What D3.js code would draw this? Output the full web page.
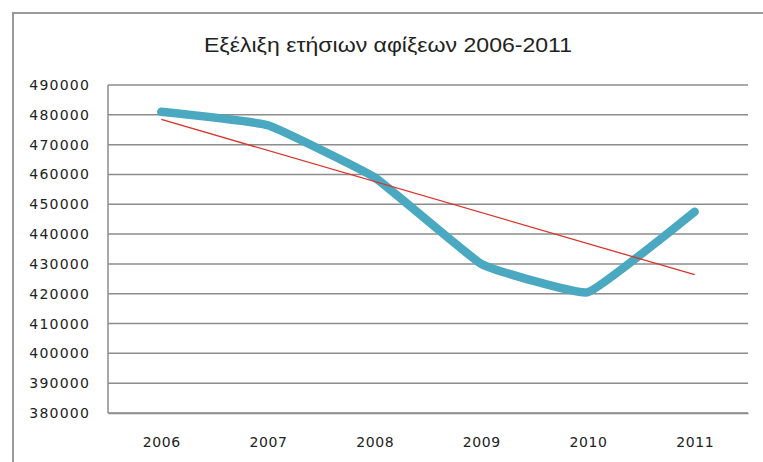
<!DOCTYPE html>
<html>
<head>
<meta charset="utf-8">
<script src="https://cdn.jsdelivr.net/npm/d3@7"></script>
<style>
  body { margin: 0; background: #fff; }
  text { font-family: "DejaVu Sans", sans-serif; fill: #222; }
</style>
</head>
<body>
<div id="chart"></div>
<script>
// Data
const years = ["2006", "2007", "2008", "2009", "2010", "2011"];
const arrivals = [481000, 476500, 459000, 430000, 420500, 447500];
const yTicks = [380000, 390000, 400000, 410000, 420000, 430000, 440000, 450000, 460000, 470000, 480000, 490000];
const title = "Εξέλιξη ετήσιων αφίξεων 2006-2011";

const width = 763;
const height = 462;
const margin = { top: 85, right: 15, bottom: 49, left: 108 };

const svg = d3.select("#chart")
    .append("svg")
    .attr("width", width)
    .attr("height", height);

// Outer frame (top and left edges)
svg.append("path")
    .attr("d", `M13,${height} L13,13 L${width},13`)
    .attr("fill", "none")
    .attr("stroke", "#9a9a9a")
    .attr("stroke-width", 2);

const x = d3.scalePoint()
    .domain(years)
    .range([margin.left, width - margin.right])
    .padding(0.5);

const y = d3.scaleLinear()
    .domain([380000, 490000])
    .range([height - margin.bottom, margin.top]);

// Gridlines
svg.append("g")
    .selectAll("line")
    .data(yTicks)
    .join("line")
    .attr("x1", margin.left)
    .attr("x2", width - margin.right)
    .attr("y1", d => y(d))
    .attr("y2", d => y(d))
    .attr("stroke", "#8c8c8c")
    .attr("stroke-width", 1.5);

// Left axis line
svg.append("line")
    .attr("x1", margin.left)
    .attr("x2", margin.left)
    .attr("y1", margin.top)
    .attr("y2", height - margin.bottom)
    .attr("stroke", "#8c8c8c")
    .attr("stroke-width", 1.5);

// Y labels
const yAxis = svg.append("g")
    .attr("transform", `translate(${margin.left},0)`)
    .call(d3.axisLeft(y).tickValues(yTicks).tickSize(0).tickPadding(18).tickFormat(d3.format("d")));
yAxis.select(".domain").remove();
yAxis.selectAll("text")
    .style("font-family", "DejaVu Sans, sans-serif")
    .style("font-size", "14px")
    .style("letter-spacing", "1.2px")
    .attr("fill", "#333");

// X labels
const xAxis = svg.append("g")
    .attr("transform", `translate(0,${height - margin.bottom})`)
    .call(d3.axisBottom(x).tickSize(0).tickPadding(24));
xAxis.select(".domain")
    .attr("stroke", "#8c8c8c")
    .attr("stroke-width", 1.5);
xAxis.selectAll("text")
    .style("font-family", "DejaVu Sans, sans-serif")
    .style("font-size", "14px")
    .style("letter-spacing", "0.6px")
    .attr("fill", "#333");

// Series line, lightly smoothed
const line = d3.line()
    .x((d, i) => x(years[i]))
    .y(d => y(d))
    .curve(d3.curveCardinal.tension(0.7));

svg.append("path")
    .datum(arrivals)
    .attr("fill", "none")
    .attr("stroke", "#4aa8c0")
    .attr("stroke-width", 8.5)
    .attr("stroke-linejoin", "round")
    .attr("stroke-linecap", "round")
    .attr("d", line);

// Linear trendline (least squares fit of the series)
const idx = arrivals.map((d, i) => i);
const xMean = d3.mean(idx);
const yMean = d3.mean(arrivals);
const slope = d3.sum(idx, i => (i - xMean) * (arrivals[i] - yMean)) / d3.sum(idx, i => (i - xMean) ** 2);
const intercept = yMean - slope * xMean;
const last = years.length - 1;

svg.append("line")
    .attr("x1", x(years[0]))
    .attr("y1", y(intercept))
    .attr("x2", x(years[last]))
    .attr("y2", y(intercept + slope * last))
    .attr("stroke", "#d9332b")
    .attr("stroke-width", 1.3);

// Title
svg.append("text")
    .attr("x", 388)
    .attr("y", 52)
    .attr("text-anchor", "middle")
    .attr("textLength", 368)
    .attr("lengthAdjust", "spacingAndGlyphs")
    .style("font-family", "Liberation Sans, sans-serif")
    .style("font-size", "21px")
    .attr("fill", "#222")
    .text(title);
</script>
</body>
</html>
